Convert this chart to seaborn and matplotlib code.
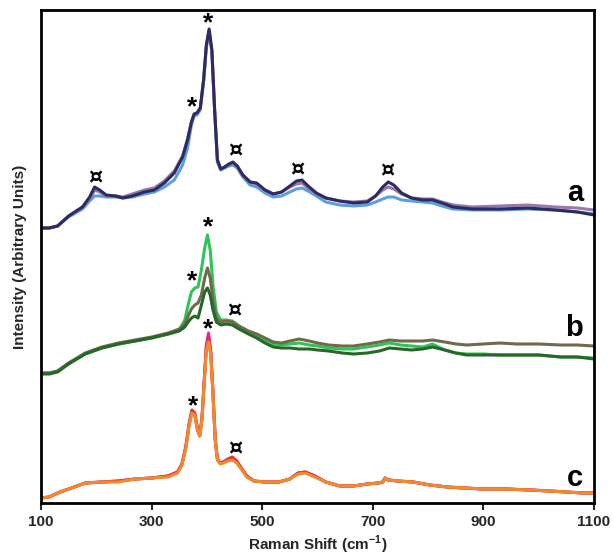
import numpy as np
import pandas as pd
import matplotlib
matplotlib.use("Agg")
import matplotlib.pyplot as plt
import seaborn as sns

# ---------------- data (Raman shift in cm-1, intensity in arbitrary units) ----------------
# group a
xa = [100, 115, 130, 150, 175, 188, 197, 206, 218, 235, 248, 265, 287, 305, 323, 341, 356, 365,
      372, 377, 382, 388, 394, 399, 404, 409, 414, 419, 425, 432, 440, 447, 455, 465, 478, 490,
      505, 520, 535, 550, 562, 572, 583, 598, 615, 640, 665, 690, 705, 718, 728, 738, 752, 770,
      790, 808, 825, 845, 880, 930, 980, 1030, 1070, 1100]
a_navy = [275, 275, 277, 287, 296, 306, 316, 313, 308, 307, 305, 307, 311, 313, 320, 330, 346, 363,
          381, 389, 390, 395, 423, 458, 474, 453, 393, 343, 334, 336, 339, 341, 337, 328, 321, 320,
          313, 309, 311, 317, 322, 323, 317, 310, 305, 302, 300, 301, 307, 316, 321, 318, 310, 305,
          303, 303, 300, 296, 294, 294, 295, 293, 291, 288]
a_mauve = [275, 275, 277, 287, 296, 304, 313, 311, 307, 307, 306, 309, 313, 315, 322, 332, 347, 364,
           381, 389, 390, 395, 423, 457, 473, 452, 393, 343, 334, 336, 339, 340, 336, 328, 321, 319,
           313, 309, 311, 316, 319, 320, 315, 309, 305, 302, 301, 302, 307, 313, 316, 314, 309, 305,
           304, 304, 301, 298, 296, 297, 298, 296, 295, 293]
a_blue = [275, 275, 277, 286, 294, 302, 307, 307, 306, 306, 305, 306, 309, 311, 316, 323, 338, 355,
          378, 387, 388, 393, 421, 456, 471, 451, 392, 341, 333, 335, 337, 338, 335, 326, 318, 316,
          310, 306, 307, 311, 314, 315, 312, 307, 301, 298, 297, 298, 301, 304, 306, 306, 303, 302,
          301, 300, 297, 294, 293, 293, 294, 293, 291, 289]

# group b
xb = [100, 115, 130, 150, 180, 210, 240, 270, 300, 330, 350, 360, 366, 372, 378, 384, 390, 396,
      401, 406, 411, 417, 425, 435, 446, 458, 475, 490, 505, 520, 535, 550, 567, 585, 600, 620,
      645, 665, 690, 712, 730, 750, 770, 790, 808, 830, 850, 870, 900, 930, 960, 1000, 1040,
      1070, 1100]
b_green = [130, 130, 132, 140, 149, 155, 159, 162, 165, 169, 173, 183, 198, 211, 215, 216, 233, 255,
           268, 253, 218, 191, 183, 183, 182, 177, 171, 167, 163, 159, 158, 159, 160, 158, 157, 155,
           154, 154, 156, 158, 160, 158, 157, 156, 159, 153, 150, 149, 149, 148, 148, 148, 146,
           146, 145]
b_olive = [130, 130, 132, 140, 150, 156, 160, 163, 166, 170, 174, 179, 187, 194, 198, 200, 208, 225,
           235, 225, 203, 185, 181, 182, 181, 177, 172, 169, 165, 161, 160, 162, 164, 162, 160, 158,
           157, 157, 159, 161, 163, 162, 162, 162, 163, 161, 159, 158, 159, 160, 159, 159, 158,
           158, 157]
b_dark = [129, 129, 131, 139, 149, 155, 159, 162, 165, 169, 172, 176, 181, 185, 187, 185, 198, 211,
          215, 208, 193, 181, 178, 179, 178, 174, 169, 165, 160, 156, 155, 155, 154, 154, 153, 152,
          150, 149, 150, 152, 155, 154, 153, 154, 156, 153, 150, 148, 148, 148, 148, 148, 146,
          146, 144]

# group c
xc = [100, 115, 130, 150, 180, 210, 240, 270, 300, 330, 347, 355, 362, 368, 373, 378, 383, 387,
      391, 395, 399, 403, 407, 411, 415, 419, 424, 430, 438, 446, 454, 462, 472, 485, 505, 530,
      550, 565, 578, 595, 615, 640, 665, 690, 710, 718, 722, 728, 745, 773, 803, 835, 865, 900,
      940, 985, 1020, 1050, 1080, 1100]
c_orange = [5, 6, 10, 14, 20, 21, 21, 24, 25, 26, 30, 38, 55, 78, 90, 88, 73, 67,
            83, 118, 153, 161, 148, 108, 63, 43, 39, 40, 42, 43, 40, 34, 26, 22, 21, 21,
            24, 29, 30, 26, 21, 17, 17, 19, 20, 21, 25, 23, 22, 21, 18, 16, 15, 14,
            14, 13, 12, 11, 10, 10]
c_red = [5, 6, 10, 14, 20, 21, 22, 24, 25, 27, 31, 39, 57, 80, 93, 90, 74, 68,
         84, 120, 156, 165, 150, 110, 64, 44, 40, 41, 44, 46, 42, 35, 27, 22, 21, 21,
         24, 30, 31, 27, 21, 17, 17, 19, 20, 21, 25, 23, 22, 21, 18, 16, 15, 14,
         14, 13, 12, 11, 10, 10]
c_magenta = [5, 6, 10, 14, 20, 21, 22, 24, 25, 27, 31, 39, 56, 79, 92, 89, 73, 67,
             84, 121, 158, 170, 152, 110, 64, 44, 40, 41, 43, 45, 41, 35, 27, 22, 21, 21,
             24, 30, 31, 27, 21, 17, 17, 19, 20, 21, 25, 23, 22, 21, 18, 16, 15, 14,
             14, 13, 12, 11, 10, 10]

xticks = [100, 300, 500, 700, 900, 1100]
group_labels = ["a", "b", "c"]

# ---------------- plotting ----------------
sns.set_style("white")
plt.rcParams["font.family"] = ["Liberation Sans", "DejaVu Sans"]
plt.rcParams["mathtext.fontset"] = "custom"
plt.rcParams["mathtext.rm"] = "Liberation Sans"
plt.rcParams["mathtext.bf"] = "Liberation Sans:bold"

fig = plt.figure(figsize=(6.13, 5.58), dpi=100)
ax = fig.add_axes([41 / 613, 1 - 503 / 558, (594 - 41) / 613, (503 - 10) / 558])

curves = [
    (xa, a_blue, "#5b9fe3"), (xa, a_mauve, "#9a78a8"), (xa, a_navy, "#2e2b5e"),
    (xb, b_green, "#2fc456"), (xb, b_olive, "#6f6a4c"), (xb, b_dark, "#27682a"),
    (xc, c_magenta, "#e524b0"), (xc, c_red, "#e2303c"), (xc, c_orange, "#f28a2c"),
]
for xs, ys, col in curves:
    sns.lineplot(x=xs, y=ys, color=col, lw=2.2, ax=ax, sort=False)

ax.set_xlim(100, 1100)
ax.set_ylim(0, 493)
ax.set_xticks(xticks)
ax.set_xticklabels([str(t) for t in xticks], fontsize=11, fontweight="bold")
ax.set_yticks([])
ax.tick_params(axis="x", direction="out", length=5, width=1.5, pad=4, bottom=True)
for s in ax.spines.values():
    s.set_visible(True)
    s.set_linewidth(2)
    s.set_color("black")

ax.set_xlabel(r"Raman Shift (cm$^{\mathbf{-1}}$)", fontsize=11, fontweight="bold", labelpad=3)
ax.set_ylabel("Intensity (Arbitrary Units)", fontsize=11, fontweight="bold", labelpad=10)

# peak markers
star_kw = dict(ha="center", va="center", fontsize=19, fontweight="bold", color="black")
cur_kw = dict(ha="center", va="center", fontsize=16, fontweight="bold", color="black",
              family=["DejaVu Sans"])
for (x, y) in [(402, 480), (373, 396), (402, 276), (373, 222), (402, 174), (375, 97)]:
    ax.text(x, y, "*", **star_kw)
for (x, y) in [(198, 326), (451, 353), (563, 334), (726, 333), (449, 193), (451, 55)]:
    ax.text(x, y, "¤", **cur_kw)

for lab, (x, y) in zip(group_labels, [(1066, 310), (1063, 175), (1066, 25)]):
    ax.text(x, y, lab, ha="center", va="center", fontsize=21, fontweight="bold", color="black")

fig.savefig("out.png", dpi=100)
